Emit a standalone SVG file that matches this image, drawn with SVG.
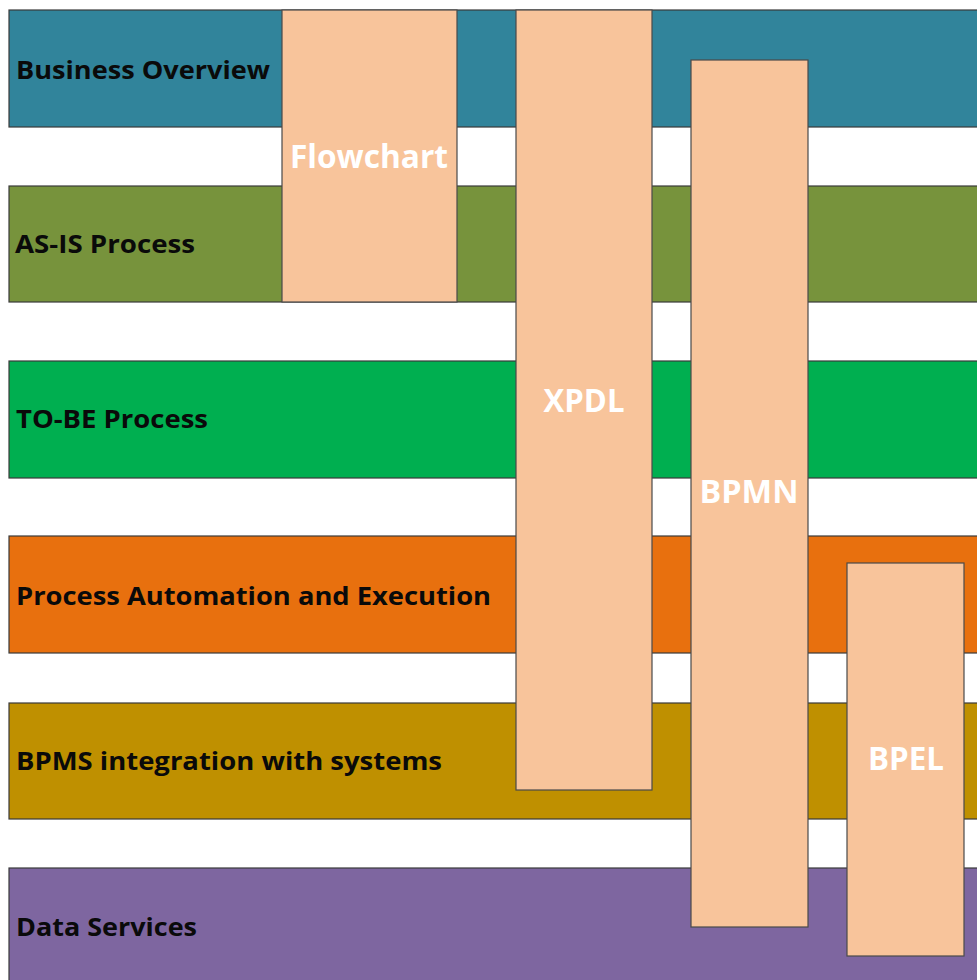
<svg xmlns="http://www.w3.org/2000/svg" width="977" height="980" viewBox="0 0 977 980">
<style>
.band{stroke:#3a3a3a;stroke-width:1.2}
.box{fill:#F8C49B;stroke:#4a4a4a;stroke-width:1.2}
.lbl{font-family:"Open Sans","Noto Sans","Liberation Sans",sans-serif;font-weight:700;font-size:25px;fill:#0a0a0a}
.wl{font-family:"Open Sans","Noto Sans","Liberation Sans",sans-serif;font-weight:700;font-size:32px;fill:#ffffff;text-anchor:middle}
</style>
<rect width="977" height="980" fill="#ffffff"/>
<g id="band-business-overview">
<rect class="band" x="9" y="10" width="990" height="117" fill="#31849B"/>
<text class="lbl" x="16" y="79" textLength="254" lengthAdjust="spacingAndGlyphs">Business Overview</text>
</g>
<g id="band-as-is">
<rect class="band" x="9" y="186" width="990" height="116" fill="#77933C"/>
<text class="lbl" x="15" y="253" textLength="180" lengthAdjust="spacingAndGlyphs">AS-IS Process</text>
</g>
<g id="band-to-be">
<rect class="band" x="9" y="361" width="990" height="117" fill="#00AF50"/>
<text class="lbl" x="16" y="428" textLength="192" lengthAdjust="spacingAndGlyphs">TO-BE Process</text>
</g>
<g id="band-automation">
<rect class="band" x="9" y="536" width="990" height="117" fill="#E8700E"/>
<text class="lbl" x="16" y="605" textLength="475" lengthAdjust="spacingAndGlyphs">Process Automation and Execution</text>
</g>
<g id="band-bpms">
<rect class="band" x="9" y="703" width="990" height="116" fill="#BF9000"/>
<text class="lbl" x="16" y="770" textLength="426" lengthAdjust="spacingAndGlyphs">BPMS integration with systems</text>
</g>
<g id="band-data-services">
<rect class="band" x="9" y="868" width="990" height="130" fill="#7E66A0"/>
<text class="lbl" x="16" y="936" textLength="181" lengthAdjust="spacingAndGlyphs">Data Services</text>
</g>
<g id="connectors"></g>
<g id="box-flowchart">
<rect class="box" x="282" y="10" width="175" height="292"/>
<text class="wl" x="369" y="168" textLength="158" lengthAdjust="spacingAndGlyphs">Flowchart</text>
</g>
<g id="box-xpdl">
<rect class="box" x="516" y="10" width="136" height="780"/>
<text class="wl" x="584" y="412" textLength="81" lengthAdjust="spacingAndGlyphs">XPDL</text>
</g>
<g id="box-bpmn">
<rect class="box" x="691" y="60" width="117" height="867"/>
<text class="wl" x="749" y="503" textLength="99" lengthAdjust="spacingAndGlyphs">BPMN</text>
</g>
<g id="box-bpel">
<rect class="box" x="847" y="563" width="117" height="393"/>
<text class="wl" x="906" y="770" textLength="76" lengthAdjust="spacingAndGlyphs">BPEL</text>
</g>
</svg>
